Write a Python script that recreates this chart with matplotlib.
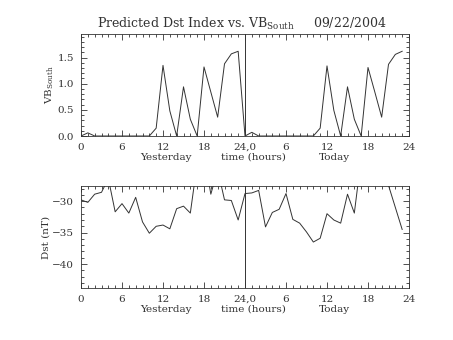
import matplotlib
matplotlib.use("Agg")
import matplotlib.pyplot as plt
import matplotlib.transforms as mtransforms
from matplotlib.ticker import MultipleLocator

# hourly values
vb_yesterday = [0.0, 0.06, 0.0, 0.0, 0.0, 0.0, 0.0, 0.0, 0.0, 0.0, 0.0, 0.15,
                1.35, 0.48, 0.0, 0.94, 0.32, 0.0, 1.32, 0.84, 0.36, 1.38, 1.57, 1.62]
vb_today = [0.0, 0.07, 0.0, 0.0, 0.0, 0.0, 0.0, 0.0, 0.0, 0.0, 0.0, 0.15,
            1.34, 0.49, 0.0, 0.94, 0.32, 0.0, 1.31, 0.84, 0.36, 1.37, 1.56, 1.62]
dst_yesterday = [-29.8, -30.2, -28.9, -28.6, -26.4, -31.7, -30.4, -31.9, -29.4, -33.3, -35.1, -34.0,
                 -33.8, -34.4, -31.2, -30.8, -31.9, -24.0, -22.5, -28.9, -25.0, -29.8, -29.9, -33.0]
dst_today = [-28.8, -28.7, -28.3, -34.1, -31.8, -31.3, -28.8, -32.9, -33.5, -34.9, -36.5, -35.9,
             -32.0, -33.0, -33.5, -28.9, -31.9, -23.2, -22.0, -22.0, -24.0, -27.5, -31.0, -34.5]

xtick_pos = [0, 6, 12, 18, 24, 30, 36, 42, 48]
xtick_labels = ["0", "6", "12", "18", "24,0", "6", "12", "18", "24"]
title_text = r"Predicted Dst Index vs. VB$_{\rm South}$     09/22/2004"

plt.rcParams["font.family"] = ["DejaVu Serif"]
plt.rcParams["mathtext.fontset"] = "custom"
plt.rcParams["mathtext.rm"] = "DejaVu Serif"

hours = list(range(len(vb_yesterday) + len(vb_today)))
vb = vb_yesterday + vb_today
dst = dst_yesterday + dst_today

fig = plt.figure(figsize=(4.53, 3.40), dpi=100)
ax1 = fig.add_axes([81 / 453, 1 - 136 / 340, 328 / 453, 102 / 340])
ax2 = fig.add_axes([81 / 453, 1 - 288 / 340, 328 / 453, 102 / 340])

ink = "#333333"


def style_axis(ax):
    ax.set_xlim(0, 48)
    ax.set_xticks(xtick_pos)
    ax.set_xticklabels(xtick_labels)
    ax.xaxis.set_minor_locator(MultipleLocator(1))
    ax.tick_params(which="both", direction="in", top=True, right=True,
                   colors=ink, labelsize=7.5, width=0.6, pad=5)
    ax.tick_params(which="major", length=4)
    ax.tick_params(which="minor", length=2)
    for sp in ax.spines.values():
        sp.set_color(ink)
        sp.set_linewidth(0.6)
    ax.axvline(24, color=ink, lw=0.7)
    # three labels under the axis, IDL style
    trans = mtransforms.blended_transform_factory(ax.transData, ax.transAxes)
    ax.text(12.4, -0.21, "Yesterday", transform=trans, ha="center", va="center",
            fontsize=7.5, color=ink)
    ax.text(25.2, -0.21, "time (hours)", transform=trans, ha="center", va="center",
            fontsize=7.5, color=ink)
    ax.text(37.1, -0.21, "Today", transform=trans, ha="center", va="center",
            fontsize=7.5, color=ink)


ax1.plot(hours, vb, color=ink, lw=0.7)
ax1.set_ylim(0, 1.95)
ax1.set_yticks([0.0, 0.5, 1.0, 1.5])
ax1.set_yticklabels(["0.0", "0.5", "1.0", "1.5"])
ax1.yaxis.set_minor_locator(MultipleLocator(0.1))
style_axis(ax1)
ax1.set_ylabel(r"VB$_{\rm South}$", fontsize=7.5, color=ink, labelpad=1)

ax2.plot(hours, dst, color=ink, lw=0.7)
ax2.set_ylim(-43.8, -27.6)
ax2.set_yticks([-40, -35, -30])
ax2.set_yticklabels(["\u221240", "\u221235", "\u221230"])
ax2.yaxis.set_minor_locator(MultipleLocator(1))
style_axis(ax2)
ax2.set_ylabel("Dst (nT)", fontsize=7.5, color=ink, labelpad=1)

fig.text(242 / 453, 1 - 24 / 340, title_text, ha="center", va="center",
         fontsize=9, color=ink)

fig.savefig("out.png", dpi=100)
